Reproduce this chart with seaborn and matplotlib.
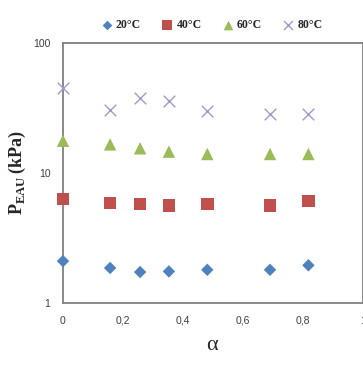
import matplotlib
matplotlib.use("Agg")
import matplotlib.pyplot as plt
import seaborn as sns
import pandas as pd
from matplotlib.ticker import FixedLocator, NullLocator

alpha = [0, 0.157, 0.257, 0.353, 0.481, 0.69, 0.818]
p20 = [2.10, 1.86, 1.73, 1.75, 1.80, 1.80, 1.95]
p40 = [6.3, 5.9, 5.8, 5.64, 5.77, 5.64, 6.06]
p60 = [17.7, 16.6, 15.5, 14.6, 14.0, 14.0, 14.0]
p80 = [44.8, 30.5, 38.0, 35.8, 30.1, 28.3, 28.3]
series = ["20°C", "40°C", "60°C", "80°C"]
xticks = [0, 0.2, 0.4, 0.6, 0.8, 1]
xticklabels = ["0", "0,2", "0,4", "0,6", "0,8", "1"]
yticks = [1, 10, 100]
yticklabels = ["1", "10", "100"]

df = pd.concat([
    pd.DataFrame({"alpha": alpha, "P": vals, "T": name})
    for name, vals in zip(series, [p20, p40, p60, p80])
])

sns.set_style("white")
plt.rcParams["font.family"] = ["Liberation Sans", "DejaVu Sans"]
plt.rcParams["mathtext.fontset"] = "custom"
plt.rcParams["mathtext.bf"] = "Liberation Serif:bold"
plt.rcParams["mathtext.rm"] = "Liberation Serif"

fig = plt.figure(figsize=(3.63, 3.65), dpi=100)
ax = fig.add_axes([63/363, 62/365, 300/363, 260/365])

palette = {"20°C": "#4F81BD", "40°C": "#C0504D", "60°C": "#9BBB59", "80°C": "#A596CC"}
markers = {"20°C": "D", "40°C": "s", "60°C": "^", "80°C": "x"}
sizes = {"20°C": 40, "40°C": 80, "60°C": 80, "80°C": 70}
for name in series:
    sub = df[df["T"] == name]
    kw = dict(edgecolor="none") if markers[name] != "x" else dict(linewidth=1.0)
    sns.scatterplot(data=sub, x="alpha", y="P", color=palette[name], marker=markers[name],
                    s=sizes[name], ax=ax, label=name, legend=False, clip_on=False,
                    zorder=5, **kw)

ax.set_yscale("log")
ax.set_xlim(0, 1)
ax.set_ylim(1, 100)
ax.yaxis.set_major_locator(FixedLocator(yticks))
ax.yaxis.set_minor_locator(NullLocator())
ax.set_yticklabels(yticklabels)
ax.set_xticks(xticks)
ax.set_xticklabels(xticklabels)
ax.tick_params(axis="x", direction="in", length=4, width=1, color="#808080", pad=9,
               labelsize=7.5, labelcolor="#404040")
ax.tick_params(axis="y", direction="out", length=3, width=1, color="#808080", pad=6,
               labelsize=7.5, labelcolor="#404040")
for s in ["left", "bottom", "top", "right"]:
    ax.spines[s].set_color("#808080")
    ax.spines[s].set_linewidth(1.3)
ax.set_xlabel(r"$\mathrm{\alpha}$", fontsize=16, labelpad=6)
ax.set_ylabel(r"$\mathbf{P}_{\mathbf{EAU}}\,\mathbf{(kPa)}$", fontsize=13, labelpad=4)

handles = []
for name in series:
    h = ax.scatter([], [], color=palette[name], marker=markers[name],
                   s=sizes[name] * 0.6, linewidths=1.0 if markers[name] == "x" else 0)
    handles.append(h)
fig.legend(handles, series, loc="center", bbox_to_anchor=(0.575, 1 - 25/365),
           ncol=4, frameon=False, handletextpad=-0.2, columnspacing=1.2,
           prop={"family": "Liberation Serif", "weight": "bold", "size": 8.5})

fig.savefig("out.png", dpi=100)
